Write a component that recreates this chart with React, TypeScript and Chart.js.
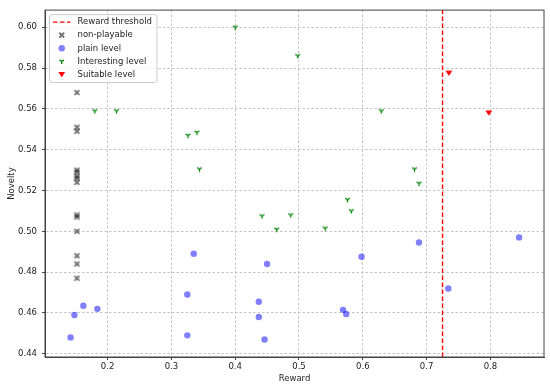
import { useEffect, useRef } from "react";
import { Chart, registerables } from "chart.js";

Chart.register(...registerables);

// ---------- data ----------
const REWARD_THRESHOLD = 0.725;

const xTickValues = [0.2, 0.3, 0.4, 0.5, 0.6, 0.7, 0.8];
const yTickValues = [0.44, 0.46, 0.48, 0.5, 0.52, 0.54, 0.56, 0.58, 0.6];

const nonPlayableReward = [0.152, 0.152, 0.152, 0.152, 0.152, 0.152, 0.152, 0.152, 0.152, 0.152, 0.152, 0.152, 0.152, 0.152];
const nonPlayableNovelty = [0.568, 0.551, 0.549, 0.530, 0.529, 0.527, 0.526, 0.524, 0.508, 0.507, 0.500, 0.488, 0.484, 0.477];

const plainReward = [0.142, 0.148, 0.162, 0.184, 0.335, 0.325, 0.325, 0.450, 0.437, 0.437, 0.446, 0.569, 0.574, 0.598, 0.688, 0.734, 0.845];
const plainNovelty = [0.448, 0.459, 0.4635, 0.462, 0.489, 0.469, 0.449, 0.484, 0.4655, 0.458, 0.447, 0.4615, 0.4595, 0.4875, 0.4945, 0.472, 0.497];

const interestingReward = [0.180, 0.214, 0.326, 0.340, 0.344, 0.400, 0.498, 0.629, 0.681, 0.688, 0.576, 0.442, 0.487, 0.465, 0.541, 0.582];
const interestingNovelty = [0.559, 0.559, 0.547, 0.5485, 0.5305, 0.600, 0.586, 0.559, 0.5305, 0.5235, 0.5155, 0.5075, 0.508, 0.501, 0.5015, 0.510];

const suitableReward = [0.735, 0.7975];
const suitableNovelty = [0.5775, 0.558];

const X_MIN = 0.1019;
const X_MAX = 0.884;
const Y_MIN = 0.4384;
const Y_MAX = 0.6084;

const FONT = "'DejaVu Sans', sans-serif";
const FONT_SIZE = 8.5;
const TEXT_COLOR = "#222";

const zip = (xs: number[], ys: number[]) => xs.map((x, i) => ({ x, y: ys[i] }));

function makeCanvas(size: number, draw: (g: CanvasRenderingContext2D, c: number) => void) {
  const cv = document.createElement("canvas");
  cv.width = size;
  cv.height = size;
  const g = cv.getContext("2d")!;
  draw(g, size / 2);
  return cv;
}

function drawXMarker(g: CanvasRenderingContext2D, cx: number, cy: number) {
  g.strokeStyle = "rgba(0,0,0,0.55)";
  g.lineWidth = 2;
  g.beginPath();
  g.moveTo(cx - 2.4, cy - 2.4);
  g.lineTo(cx + 2.4, cy + 2.4);
  g.moveTo(cx + 2.4, cy - 2.4);
  g.lineTo(cx - 2.4, cy + 2.4);
  g.stroke();
}

function drawTriDown(g: CanvasRenderingContext2D, cx: number, cy: number) {
  const r = 2.7;
  g.strokeStyle = "#008000";
  g.lineWidth = 1.3;
  g.beginPath();
  g.moveTo(cx, cy);
  g.lineTo(cx, cy + r);
  g.moveTo(cx, cy);
  g.lineTo(cx - r * 0.866, cy - r * 0.5);
  g.moveTo(cx, cy);
  g.lineTo(cx + r * 0.866, cy - r * 0.5);
  g.stroke();
}

function drawTriangleDown(g: CanvasRenderingContext2D, cx: number, cy: number) {
  g.fillStyle = "#ff0000";
  g.beginPath();
  g.moveTo(cx - 3.4, cy - 2.6);
  g.lineTo(cx + 3.4, cy - 2.6);
  g.lineTo(cx, cy + 2.8);
  g.closePath();
  g.fill();
}

function drawCircle(g: CanvasRenderingContext2D, cx: number, cy: number) {
  g.fillStyle = "rgba(0,0,255,0.5)";
  g.beginPath();
  g.arc(cx, cy, 3.2, 0, Math.PI * 2);
  g.fill();
}

const framePlugin = {
  id: "frame",
  afterDraw(chart: any) {
    const { ctx, chartArea: a } = chart;
    ctx.save();
    ctx.strokeStyle = "#444";
    ctx.lineWidth = 1;
    ctx.strokeRect(a.left, a.top, a.right - a.left, a.bottom - a.top);
    ctx.restore();
  },
};

const legendPlugin = {
  id: "mplLegend",
  afterDraw(chart: any) {
    const { ctx, chartArea: a } = chart;
    const bx = a.left + 4.5;
    const by = a.top + 4.5;
    const bw = 107.5;
    const bh = 68;
    ctx.save();
    // box
    const r = 2.5;
    ctx.beginPath();
    ctx.moveTo(bx + r, by);
    ctx.lineTo(bx + bw - r, by);
    ctx.arcTo(bx + bw, by, bx + bw, by + r, r);
    ctx.lineTo(bx + bw, by + bh - r);
    ctx.arcTo(bx + bw, by + bh, bx + bw - r, by + bh, r);
    ctx.lineTo(bx + r, by + bh);
    ctx.arcTo(bx, by + bh, bx, by + bh - r, r);
    ctx.lineTo(bx, by + r);
    ctx.arcTo(bx, by, bx + r, by, r);
    ctx.closePath();
    ctx.fillStyle = "rgba(255,255,255,0.8)";
    ctx.fill();
    ctx.strokeStyle = "#cccccc";
    ctx.lineWidth = 1;
    ctx.stroke();

    const datasets = chart.data.datasets;
    const hx0 = bx + 3.5;
    const hx1 = bx + 21;
    const mx = (hx0 + hx1) / 2;
    const tx = bx + 28;
    const rowY0 = by + 7.5;
    const step = 13.1;
    ctx.font = `${FONT_SIZE}px ${FONT}`;
    ctx.textBaseline = "middle";
    ctx.textAlign = "left";
    datasets.forEach((ds: any, i: number) => {
      const y = rowY0 + i * step;
      if (ds.legendKind === "line") {
        ctx.save();
        ctx.strokeStyle = ds.borderColor;
        ctx.lineWidth = ds.borderWidth;
        ctx.setLineDash(ds.borderDash);
        ctx.beginPath();
        ctx.moveTo(hx0, y);
        ctx.lineTo(hx1, y);
        ctx.stroke();
        ctx.restore();
      } else if (ds.legendKind === "x") {
        drawXMarker(ctx, mx, y);
      } else if (ds.legendKind === "circle") {
        drawCircle(ctx, mx, y);
      } else if (ds.legendKind === "tri") {
        drawTriDown(ctx, mx, y);
      } else if (ds.legendKind === "triangle") {
        drawTriangleDown(ctx, mx, y);
      }
      ctx.fillStyle = TEXT_COLOR;
      ctx.fillText(ds.label, tx, y);
    });
    ctx.restore();
  },
};

export default function App() {
  const ref = useRef<HTMLCanvasElement | null>(null);

  useEffect(() => {
    if (!ref.current) return;
    const xMarker = makeCanvas(7, (g, c) => drawXMarker(g, c, c));
    const triMarker = makeCanvas(7, (g, c) => drawTriDown(g, c, c));
    const triangleMarker = makeCanvas(8, (g, c) => drawTriangleDown(g, c, c));

    const gridCommon = {
      color: "#b8b8b8",
      lineWidth: 0.8,
      drawTicks: true,
      tickLength: 3,
      tickColor: "#444",
      tickWidth: 1,
      tickBorderDash: [],
    };
    const borderCommon = { display: true, color: "#444", width: 1, dash: [2.5, 2] };

    const chart = new Chart(ref.current, {
      type: "scatter",
      data: {
        datasets: [
          {
            label: "Reward threshold",
            legendKind: "line",
            data: [
              { x: REWARD_THRESHOLD, y: Y_MIN },
              { x: REWARD_THRESHOLD, y: Y_MAX },
            ],
            showLine: true,
            borderColor: "#ff0000",
            borderWidth: 1.4,
            borderDash: [4.5, 2.5],
            pointRadius: 0,
          } as any,
          {
            label: "non-playable",
            legendKind: "x",
            data: zip(nonPlayableReward, nonPlayableNovelty),
            pointStyle: xMarker,
          } as any,
          {
            label: "plain level",
            legendKind: "circle",
            data: zip(plainReward, plainNovelty),
            pointStyle: "circle",
            pointRadius: 3.2,
            backgroundColor: "rgba(0,0,255,0.5)",
            borderWidth: 0,
          } as any,
          {
            label: "Interesting level",
            legendKind: "tri",
            data: zip(interestingReward, interestingNovelty),
            pointStyle: triMarker,
          } as any,
          {
            label: "Suitable level",
            legendKind: "triangle",
            data: zip(suitableReward, suitableNovelty),
            pointStyle: triangleMarker,
          } as any,
        ],
      },
      options: {
        animation: false,
        responsive: false,
        devicePixelRatio: 1,
        events: [],
        layout: { padding: { left: 0, top: 6, right: 6, bottom: 0 } },
        plugins: {
          legend: { display: false },
          tooltip: { enabled: false },
        },
        scales: {
          x: {
            type: "linear",
            min: X_MIN,
            max: X_MAX,
            afterBuildTicks: (s: any) => {
              s.ticks = xTickValues.map((v) => ({ value: v }));
            },
            afterFit: (s: any) => {
              s.height = 30;
            },
            ticks: {
              padding: 1.5,
              color: TEXT_COLOR,
              font: { family: FONT, size: FONT_SIZE },
              callback: (v: any) => Number(v).toFixed(1),
              maxRotation: 0,
            },
            grid: gridCommon,
            border: borderCommon,
            title: {
              display: true,
              text: "Reward",
              color: TEXT_COLOR,
              font: { family: FONT, size: FONT_SIZE },
              padding: { top: 0, bottom: 3.6 },
            },
          },
          y: {
            type: "linear",
            min: Y_MIN,
            max: Y_MAX,
            afterBuildTicks: (s: any) => {
              s.ticks = yTickValues.map((v) => ({ value: v }));
            },
            afterFit: (s: any) => {
              s.width = 45;
            },
            ticks: {
              padding: 5,
              color: TEXT_COLOR,
              font: { family: FONT, size: FONT_SIZE },
              callback: (v: any) => Number(v).toFixed(2),
            },
            grid: gridCommon,
            border: borderCommon,
            title: {
              display: true,
              text: "Novelty",
              color: TEXT_COLOR,
              font: { family: FONT, size: FONT_SIZE },
              padding: { top: 6.6, bottom: 0 },
            },
          },
        },
      } as any,
      plugins: [framePlugin, legendPlugin],
    });
    return () => chart.destroy();
  }, []);

  return (
    <div style={{ position: "fixed", left: 0, top: 0, width: 550, height: 387, background: "#fff" }}>
      <canvas ref={ref} width={550} height={387} style={{ display: "block" }} />
    </div>
  );
}
